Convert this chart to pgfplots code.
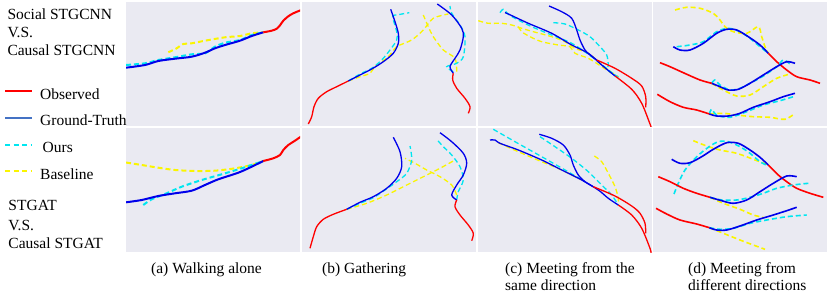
\documentclass[border=0pt]{standalone}
\usepackage{pgfplots}
\pgfplotsset{compat=1.18}
\usepackage{fontspec}
\setmainfont{Liberation Serif}
\definecolor{bgc}{RGB}{234,234,242}
\definecolor{obsc}{RGB}{255,0,0}
\definecolor{gtc}{RGB}{0,0,235}
\definecolor{gtleg}{RGB}{68,114,196}
\definecolor{ourc}{RGB}{0,230,240}
\definecolor{basec}{RGB}{250,245,0}
\pgfplotsset{
  panel/.style={scale only axis, width=174pt, height=124pt,
    axis line style={draw=none}, ticks=none,
    axis background/.style={fill=bgc}, y dir=reverse, anchor=north west, clip=true},
  obs/.style={color=obsc, line width=#1, smooth, tension=0.5},
  gt/.style={color=gtc, line width=#1, smooth, tension=0.5},
  our/.style={color=ourc, line width=#1, dash pattern=on 5pt off 3pt, smooth, tension=0.5},
  base/.style={color=basec, line width=#1, dash pattern=on 5pt off 3pt, smooth, tension=0.5},
}
\begin{document}
\begin{tikzpicture}[x=1pt,y=1pt]
\useasboundingbox (0,-294) rectangle (830,0);
\fontsize{15.5}{18}\selectfont
% ---------- (a) row 1
\begin{axis}[panel, at={(126pt,-2pt)}, xmin=126, xmax=300, ymin=2, ymax=126,
  legend style={at={(-0.701,0.3065)}, anchor=north west, draw=none, fill=none, inner sep=0pt,
    font=\fontsize{15.5}{18}\selectfont, row sep=11.7pt, column sep=7pt,
    nodes={text height=11pt, text depth=4pt, inner sep=0pt}},
  legend cell align=left,
  legend image code/.code={\draw[#1] (0pt,4.5pt) -- (27pt,4.5pt);}]
\addlegendimage{color=obsc, line width=2pt}
\addlegendentry{Observed}
\addlegendimage{color=gtleg, line width=2pt}
\addlegendentry{Ground-Truth}
\addlegendimage{color=ourc, line width=2pt, dash pattern=on 5pt off 3.5pt}
\addlegendentry{\hspace{2.5pt}Ours}
\addlegendimage{color=basec, line width=2pt, dash pattern=on 5pt off 3.5pt}
\addlegendentry{Baseline}
\addplot[base=2pt] coordinates {(168.3,52.3)(176.7,48.3)(183.3,44)(191.7,43.3)(205,40.7)(225,37.3)(240,36)(251.7,33.3)(263.3,32.3)};
\addplot[our=2pt] coordinates {(126,65)(145,63.3)(158.3,60)(175,57.3)(191.7,54.3)(205,53.3)(215,46.7)(225,42.7)(240,40)(251.7,35)(263.3,32.3)};
\addplot[gt=2pt] coordinates {(126,67.7)(145,65)(158.3,61)(175,58.7)(191.7,56.7)(205,52.7)(215,48.3)(225,45)(240,40.7)(251.7,36)(263.3,32.3)};
\addplot[obs=2pt] coordinates {(263.3,32.3)(271.7,30.7)(276.7,28.7)(280,25.3)(283.3,20.7)(288.3,16.3)(293.3,13.3)(300.5,10.3)};
\end{axis}
% ---------- (a) row 2
\begin{axis}[panel, at={(126pt,-128pt)}, xmin=126, xmax=300, ymin=128, ymax=252]
\addplot[base=2pt] coordinates {(126,162.5)(141.7,165)(158.3,167.7)(175,170)(195,171)(215,170.7)(235,168.3)(251.7,165)(263.3,161)};
\addplot[our=2pt] coordinates {(143.3,205)(151.7,199.3)(165,194)(181.7,186.7)(201.7,180)(221.7,174.3)(241.7,168.3)(263.3,161)};
\addplot[gt=2pt] coordinates {(126,202.3)(141.7,200)(158.3,196)(175,193.3)(191.7,190.7)(205,185)(218.3,179.3)(238.3,172.7)(251.7,166.7)(263.3,161)};
\addplot[obs=2pt] coordinates {(263.3,161)(273.3,158.3)(280,155)(283.3,150)(288.3,145)(295,140.7)(300.7,136.7)};
\end{axis}
% ---------- (b) row 1
\begin{axis}[panel, at={(302pt,-2pt)}, xmin=302, xmax=476, ymin=2, ymax=126]
\addplot[base=1.3pt] coordinates {(348.3,81)(360,76.7)(370,73.3)(375,66.7)(388.3,56.7)(396.7,46.7)(411.7,40)(423.3,30)(433.3,18.3)(448.3,14)};
\addplot[base=1.3pt] coordinates {(456.7,71.7)(455,58.3)(443.3,50)(433.3,36.7)(428.3,26.7)(423.3,15)};
\addplot[our=1.3pt] coordinates {(348.3,81)(360,74)(371.7,68.3)(381.7,60)(390,50)(396.7,40)(396.7,31.7)(392.7,16.7)(396.7,15)(409.3,12.7)};
\addplot[gt=1.3pt] coordinates {(348.3,81)(360,75)(371.7,69)(383.3,61.7)(393.3,53.3)(398.3,43.3)(398.3,33.3)(395,21.7)(390.7,9.3)};
\addplot[obs=1.3pt] coordinates {(308.3,124)(311.7,116.7)(314,106.7)(318.3,98.3)(326.7,91.7)(336.7,86.7)(348.3,81)};
\addplot[our=1.3pt] coordinates {(453.3,71.7)(446.7,66.7)(456.7,63.3)(463.3,56.7)(465,36.7)(460,25)(451.7,13.3)(450,6)};
\addplot[gt=1.3pt] coordinates {(453.3,73.3)(450,66.7)(455,58.3)(460,50)(463.3,36.7)(461.7,28.3)(451.7,15)(437.3,4)};
\addplot[obs=1.3pt] coordinates {(453.3,73.3)(452.7,80)(456.7,88.3)(465,98.3)(470,106.7)(468.3,113.3)};
\end{axis}
% ---------- (b) row 2
\begin{axis}[panel, at={(302pt,-128pt)}, xmin=302, xmax=476, ymin=128, ymax=252]
\addplot[base=1.3pt] coordinates {(346.7,209.3)(366.7,203.3)(386.7,195)(406.7,185)(426.7,175)(440,168.3)(455,160)};
\addplot[base=1.3pt] coordinates {(456.7,195)(451.7,185)(440,176.7)(426.7,170)(415,163.3)(405,158.3)};
\addplot[our=1.3pt] coordinates {(346.7,209.3)(360,203.3)(373.3,197.7)(385,190)(396.7,181.7)(406.7,173.3)(411.7,160)(410,146)};
\addplot[gt=1.3pt] coordinates {(346.7,209.3)(360,202.3)(373.3,196.7)(386.7,188.3)(396.7,178.3)(401.7,166.7)(400,151.7)(393.3,137.3)};
\addplot[obs=1.3pt] coordinates {(310,248.3)(313.3,236.7)(316.7,226.7)(323.3,219.3)(333.3,214.3)(346.7,209.3)};
\addplot[our=1.3pt] coordinates {(456.7,200)(458.3,191.7)(463.3,180)(460,166.7)(451.7,155)(443.3,146.7)(437.3,140)};
\addplot[gt=1.3pt] coordinates {(456.7,200)(451.7,195)(456.7,185)(463.3,175)(466.7,163.3)(463.3,153.3)(451.7,141.7)(440,132.7)};
\addplot[obs=1.3pt] coordinates {(456.7,200)(455,206.7)(460,215)(468.3,225)(473.3,233.3)(471.7,240.7)};
\end{axis}
% ---------- (c) row 1
\begin{axis}[panel, at={(478pt,-2pt)}, xmin=478, xmax=652, ymin=2, ymax=126]
\addplot[base=1.3pt] coordinates {(478.3,20.7)(488.3,23.3)(501.7,23.3)(511.7,25)(521.7,28.3)(533.3,31.7)(551.7,36.7)(565,41.7)(575,48.3)(588.3,53.3)(598.3,61.7)(608.3,70)(618.3,76.7)};
\addplot[base=1.3pt] coordinates {(518.3,26.7)(521.7,31.7)(530,36.7)(541.7,41.7)(558.3,45)(570,46.7)(575,53.3)(588.3,58.3)(601.7,66.7)(611.7,73.3)};
\addplot[our=1.3pt] coordinates {(500,12.7)(503.3,9.3)(508,14)(515,18.3)(531.7,26.7)(551.7,35)(571.7,43.3)(591.7,56.7)(608.3,70)(618.3,77.3)};
\addplot[our=1.3pt] coordinates {(553.3,22.7)(565,24)(578.3,30)(590,36.7)(600,46.7)(606.7,55)(608.3,65)(607.7,70)(615,75)(618.3,77.3)};
\addplot[gt=1.3pt] coordinates {(505,12.7)(508.3,14)(528.3,23.3)(551.7,33.3)(571.7,45)(588.3,53.3)(601.7,65)(615,76)};
\addplot[gt=1.3pt] coordinates {(549,6)(561.7,11.7)(571.7,18.3)(576.7,30)(580,40)(585,50)(590,55)(596.7,60)};
\addplot[obs=1.3pt] coordinates {(596.7,60)(615,68.3)(631.7,78.3)(641.7,86)(645.7,96.7)(645.7,107.3)};
\addplot[obs=1.3pt] coordinates {(615,76)(631.7,89.3)(641.7,103.3)(650,124)(651,127)};
\end{axis}
% ---------- (c) row 2
\begin{axis}[panel, at={(478pt,-128pt)}, xmin=478, xmax=652, ymin=128, ymax=252]
\addplot[base=1.3pt] coordinates {(498.3,142.7)(518.3,151.7)(541.7,161.7)(561.7,170)(581.7,180)};
\addplot[base=1.3pt] coordinates {(594.3,156)(601.7,161.7)(608.3,173.3)(615,186.7)(618.3,198.3)(618.3,205)};
\addplot[our=1.3pt] coordinates {(493.3,129.3)(515,141.7)(541.7,156.7)(565,170)(585,181.7)};
\addplot[our=1.3pt] coordinates {(540,136.7)(555,146.7)(571.7,158.3)(588.3,171.7)(601.7,185)(611.7,195)(618.3,205)};
\addplot[gt=1.3pt] coordinates {(490,140)(495,140)(500,143.3)(518.3,150)(541.7,160)(561.7,170)(581.7,180)(598.3,190)(608.3,198.3)(618.3,205)};
\addplot[gt=1.3pt] coordinates {(539.3,134.3)(551.7,138.3)(563.3,145)(570,155)(573.3,165)(578.3,175)(585,181.7)(593.3,186.7)};
\addplot[obs=1.3pt] coordinates {(618.3,205)(631.7,215)(641.7,228.3)(650,248.3)(651,253)};
\addplot[obs=1.3pt] coordinates {(593.3,186.7)(615,196)(631.7,206)(640,213.3)(645,223.3)(645.7,233.3)};
\end{axis}
% ---------- (d) row 1
\begin{axis}[panel, at={(653pt,-2pt)}, xmin=653, xmax=827, ymin=2, ymax=126]
\addplot[base=1.6pt] coordinates {(675,10)(686.7,7.3)(700,8.3)(713.3,13.3)(720,20)(725,26.7)(733.3,31.7)(746.7,33.3)(758.3,26.7)(761.7,36.7)(765,46.7)(768.3,53.3)};
\addplot[our=1.6pt] coordinates {(676.7,46.7)(690,45)(703.3,41.7)(716.7,31.7)(728.3,28.3)(740,31.7)(750,38.3)(760,46.7)(768.3,53.3)};
\addplot[gt=1.6pt] coordinates {(673.3,46.7)(680,50)(690,50)(703.3,43.3)(716.7,33.3)(726.7,29.3)(736.7,30)(748.3,36.7)(760,45)(768.3,53.3)};
\addplot[obs=1.6pt] coordinates {(768.3,53.3)(776.7,61.7)(786.7,70)(796.7,76.7)(810,80)(820,83.3)};
\addplot[base=1.6pt] coordinates {(711.7,83.3)(723.3,90)(736.7,96)(750,95)(763.3,86.7)(776.7,78.3)(790,74)};
\addplot[our=1.6pt] coordinates {(711.7,83.3)(715,80)(720,85)(730,90)(740,88.3)(750,83.3)(763.3,76)(776.7,66.7)(783.3,60)(790,64)};
\addplot[gt=1.6pt] coordinates {(711.7,83.3)(720,86.7)(728.3,90)(738.3,89.3)(750,83.3)(763.3,75)(776.7,66.7)(786.7,61.7)(795,63.3)};
\addplot[obs=1.6pt] coordinates {(660,62.7)(670,66.7)(683.3,72.7)(700,80)(711.7,83.3)};
\addplot[base=1.6pt] coordinates {(709.3,114)(723.3,113.3)(736.7,115)(753.3,116.7)(770,117.3)(785,119.3)(795,113.3)};
\addplot[our=1.6pt] coordinates {(709.3,114)(711.7,109.3)(716.7,115)(730,117.3)(746.7,111.7)(763.3,105)(780,100.7)(793.3,96.7)};
\addplot[gt=1.6pt] coordinates {(709.3,114)(716.7,116)(728.3,116)(740,113.3)(753.3,107.3)(770,101.7)(783.3,96.7)(795,93.3)};
\addplot[obs=1.6pt] coordinates {(657.3,94.3)(670,101.7)(683.3,107.3)(696.7,110)(709.3,114)};
\end{axis}
% ---------- (d) row 2
\begin{axis}[panel, at={(653pt,-128pt)}, xmin=653, xmax=827, ymin=128, ymax=252]
\addplot[base=1.6pt] coordinates {(693.3,140.7)(706.7,146)(720,150)(736.7,153.3)(753.3,159.3)(768.3,165)};
\addplot[our=1.6pt] coordinates {(674,194)(678.3,183.3)(685,170)(696.7,156.7)(708.3,147.3)(718.3,141.7)(728.3,141.7)(740,146.7)(750,153.3)(760,161.7)(768.3,166)};
\addplot[gt=1.6pt] coordinates {(671.7,159.3)(680,163.3)(690,162.7)(701.7,156.7)(713.3,149.3)(726.7,142.7)(738.3,143.3)(750,150)(760,157.3)(768.3,165)};
\addplot[obs=1.6pt] coordinates {(768.3,165)(778.3,175)(786.7,181.7)(796.7,188.3)(810,193.3)(823.3,197.3)};
\addplot[base=1.6pt] coordinates {(710,197.3)(723.3,203.3)(740,209.3)(753.3,215)(763.3,217.3)};
\addplot[our=1.6pt] coordinates {(710,197.3)(721.7,200)(736.7,200)(750,197.3)(763.3,193.3)(776.7,188.3)(793.3,185)(808.3,183.3)};
\addplot[gt=1.6pt] coordinates {(710,197.3)(721.7,200.7)(733.3,203.3)(746.7,200)(760,191.7)(773.3,183.3)(786.7,176)(796.7,176.7)};
\addplot[obs=1.6pt] coordinates {(658.3,176.7)(670,181.7)(683.3,188.3)(696.7,193.3)(710,197.3)};
\addplot[base=1.6pt] coordinates {(709.3,227.7)(723.3,233.3)(740,240)(753.3,245)(765,249.3)};
\addplot[our=1.6pt] coordinates {(709.3,227.7)(720,229.3)(733.3,228.3)(750,223.3)(766.7,220)(786.7,216.7)(806.7,215)};
\addplot[gt=1.6pt] coordinates {(709.3,227.7)(716.7,230)(726.7,230)(740,226)(756.7,220)(773.3,215)(786.7,210.7)(796.7,207.3)};
\addplot[obs=1.6pt] coordinates {(656,208.3)(666.7,214)(680,220)(696.7,224)(709.3,227.7)};
\end{axis}
% ---------- texts
\node[anchor=base west, inner sep=0pt] at (7.3,-19.3) {Social STGCNN};
\node[anchor=base west, inner sep=0pt] at (7.3,-37.3) {V.S.};
\node[anchor=base west, inner sep=0pt] at (7.3,-56) {Causal STGCNN};
\node[anchor=base west, inner sep=0pt] at (8.3,-210.7) {STGAT};
\node[anchor=base west, inner sep=0pt] at (8.3,-230) {V.S.};
\node[anchor=base west, inner sep=0pt] at (8.3,-248.3) {Causal STGAT};
\node[anchor=base west, inner sep=0pt] at (151,-273) {(a) Walking alone};
\node[anchor=base west, inner sep=0pt] at (322,-273) {(b) Gathering};
\node[anchor=base west, inner sep=0pt] at (505,-273) {(c) Meeting from the};
\node[anchor=base west, inner sep=0pt] at (505,-290) {same direction};
\node[anchor=base west, inner sep=0pt] at (688,-273) {(d) Meeting from};
\node[anchor=base west, inner sep=0pt] at (688,-290) {different directions};
\end{tikzpicture}
\end{document}
